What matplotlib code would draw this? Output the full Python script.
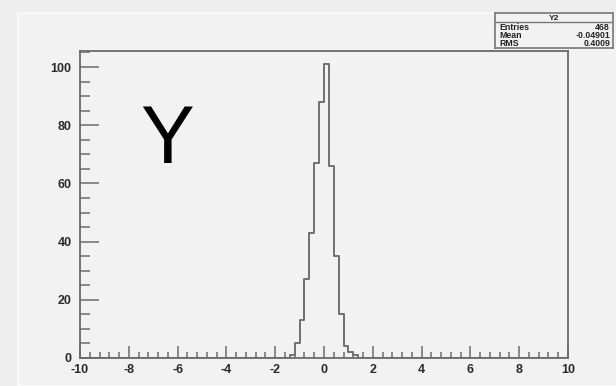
import matplotlib
matplotlib.use("Agg")
import matplotlib.pyplot as plt
import numpy as np
from matplotlib.ticker import MultipleLocator
from matplotlib.patches import Rectangle

# Data: histogram bins (width 0.2) and counts
bin_edges = [-1.4, -1.2, -1.0, -0.8, -0.6, -0.4, -0.2, 0.0, 0.2, 0.4, 0.6, 0.8, 1.0, 1.2, 1.4]
counts = [1, 5, 13, 27, 43, 67, 88, 101, 66, 35, 15, 4, 2, 1]
hist_name = "Y2"
stats_labels = ["Entries", "Mean", "RMS"]
stats_values = ["468", "-0.04901", "0.4009"]
big_label = "Y"
x_ticks = [-10, -8, -6, -4, -2, 0, 2, 4, 6, 8, 10]
x_tick_labels = ["-10", "-8", "-6", "-4", "-2", "0", "2", "4", "6", "8", "10"]
y_ticks = [0, 20, 40, 60, 80, 100]
y_tick_labels = ["0", "20", "40", "60", "80", "100"]

bg = "#f2f2f2"
fig = plt.figure(figsize=(6.16, 3.86), dpi=100, facecolor="#eeeeee")
# pad highlight
fig.patches.append(Rectangle((18/616, 0.0), 1, 1 - 13/386, transform=fig.transFigure,
                             facecolor=bg, edgecolor="#fbfbfb", lw=1.2, zorder=-10))

ax = fig.add_axes([80/616, 1 - 358/386, (568-80)/616, (358-51)/386])
ax.set_facecolor(bg)

# draw histogram as step outline
xs = np.repeat(bin_edges, 2)[1:-1]
ys = np.repeat(counts, 2)
lc = "#707070"
ax.plot(np.concatenate(([bin_edges[0]], xs, [bin_edges[-1]])),
        np.concatenate(([0], ys, [0])), color=lc, lw=1.4)
ax.plot([-10, bin_edges[0]], [0, 0], color=lc, lw=1.4)
ax.plot([bin_edges[-1], 10], [0, 0], color=lc, lw=1.4)

ax.set_xlim(-10, 10)
ax.set_ylim(0, 105.5)
ax.set_xticks(x_ticks)
ax.set_xticklabels(x_tick_labels)
ax.set_yticks(y_ticks)
ax.set_yticklabels(y_tick_labels)
ax.xaxis.set_minor_locator(MultipleLocator(0.4))
ax.yaxis.set_minor_locator(MultipleLocator(5))
for s in ax.spines.values():
    s.set_color("#6a6a6a")
    s.set_linewidth(1.3)
ax.tick_params(axis="x", which="major", direction="in", length=9, width=1.2, color="#777777",
               labelsize=9, pad=4)
ax.tick_params(axis="x", which="minor", direction="in", length=4.5, width=1.2, color="#777777")
ax.tick_params(axis="y", which="major", direction="in", length=14, width=1.2, color="#777777",
               labelsize=9, pad=6)
ax.tick_params(axis="y", which="minor", direction="in", length=7, width=1.2, color="#777777")
for lab in ax.get_xticklabels() + ax.get_yticklabels():
    lab.set_fontweight("bold")
    lab.set_color("#2a2a2a")
    lab.set_family("Liberation Sans")

# big label
fig.text(167/616, 1 - 142/386, big_label, fontsize=58, family="Liberation Sans",
         ha="center", va="center", color="black")

# stats box
sx0, sy0, sx1, sy1 = 495, 13, 613, 48
H = sy1 - sy0
sax = fig.add_axes([sx0/616, 1 - sy1/386, (sx1-sx0)/616, H/386])
sax.set_facecolor(bg)
sax.set_xticks([]); sax.set_yticks([])
for s in sax.spines.values():
    s.set_color("#777777"); s.set_linewidth(1.2)
sax.set_xlim(0, 1); sax.set_ylim(0, 1)
sax.axhline(1 - 9.5/H, color="#777777", lw=1.0)
sax.text(0.5, 1 - 5/H, hist_name, ha="center", va="center", fontsize=6,
         fontweight="bold", family="Liberation Sans", color="#222222")
row_y = [1 - 14.5/H, 1 - 22.5/H, 1 - 30/H]
for lbl, val, yy in zip(stats_labels, stats_values, row_y):
    sax.text(0.035, yy, lbl, ha="left", va="center", fontsize=6.3, fontweight="bold",
             family="Liberation Sans", color="#222222")
    sax.text(0.975, yy, val, ha="right", va="center", fontsize=6.3, fontweight="bold",
             family="Liberation Sans", color="#222222")

fig.savefig("out.png", dpi=100, facecolor=fig.get_facecolor())
